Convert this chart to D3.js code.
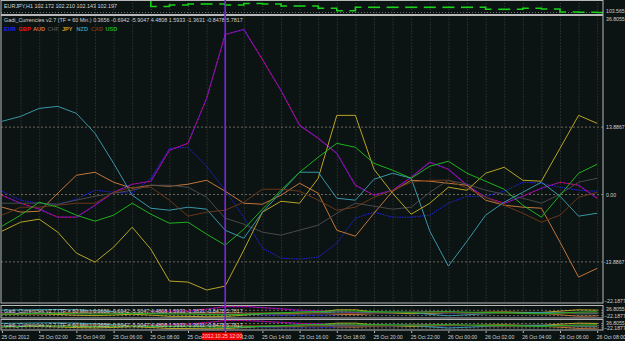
<!DOCTYPE html>
<html>
<head>
<meta charset="utf-8">
<script src="https://cdn.jsdelivr.net/npm/d3@7"></script>
<style>
  body { margin: 0; background: #0b1313; }
  svg { display: block; }
  text { font-family: "Liberation Sans", Arial, sans-serif; }
</style>
</head>
<body>
<div id="chart"></div>
<script>
// hourly bars from 25 Oct 2012 00:00 to 26 Oct 2012 08:00
const startTime = new Date(2012, 9, 25, 0)
const endTime = new Date(2012, 9, 26, 8)
const times = d3.timeHour.range(startTime, d3.timeHour.offset(endTime, 1))

// currency strength lines (one value per hour)
const eur = [0.68, -1.17, -1.79, -2.00, -0.97, 0.88, 0.47, 0.27, 3.35, 9.52, 9.73, 5.82, 0.88, -4.67, -11.04, -13.10, -13.31, -12.90, -10.02, -4.87, -3.64, -4.67, -4.67, -4.26, -1.79, -0.35, -0.35, 0.68, 2.53, 2.32, 1.50, 0.88, 0.68]
const gbp = [-0.14, -1.79, -3.02, -4.67, -4.67, -2.20, 0.47, 2.12, 2.74, 9.11, 10.55, 19.81, 32.97, 34.00, 27.83, 21.45, 14.25, 11.58, 8.49, 1.91, -0.14, 0.88, 3.56, 6.64, 5.20, 1.91, -0.56, -1.79, -0.35, 1.30, 2.53, 1.91, -0.76]
const aud = [-2.61, -3.64, -3.44, 0.27, 3.97, 4.59, 2.53, 1.30, 1.91, 1.71, 2.12, 2.94, 0.68, -1.79, -2.00, -0.14, 2.32, 0.27, -7.36, -8.59, -3.85, 0.68, 2.94, 2.74, 2.32, 1.91, -1.17, -2.20, -2.61, -2.82, -9.81, -17.01, -15.22]
const chf = [-1.79, -1.79, -1.79, -2.00, -1.17, -0.35, 0.27, 0.88, 1.91, 1.91, 1.50, -0.56, -4.87, -6.11, -7.76, -8.37, -7.34, -6.31, -3.85, -1.79, -2.41, -3.02, -2.61, 0.47, 2.94, 2.12, 0.88, 0.06, -0.76, -1.79, 0.06, 2.53, 3.35]
const jpy = [-7.55, -5.70, -5.08, -7.76, -12.07, -13.93, -10.84, -6.73, -11.25, -17.83, -18.04, -19.68, -18.86, -11.45, -3.64, -1.38, -1.79, 3.35, 16.31, 16.31, 5.20, 0.27, -4.05, -1.79, 1.50, 0.88, 4.38, 5.61, 2.94, 2.74, 9.52, 16.31, 14.66]
const nzd = [15.08, 16.10, 17.75, 18.16, 16.72, 12.61, 6.44, -0.14, -2.82, -3.23, -2.61, -3.02, -7.36, -9.00, -3.64, 0.47, 4.59, 4.59, -0.76, -1.17, 3.15, 4.38, 3.35, -7.55, -14.75, -9.60, -4.26, -1.58, 0.47, 2.53, -0.35, -4.46, -3.85]
const cad = [-4.26, -2.61, -2.61, -2.20, -1.79, -1.79, 0.47, 1.50, 1.50, -1.17, -4.46, -3.64, -3.23, -1.58, 1.09, 1.09, 0.68, -1.17, -3.23, -2.61, -0.56, 0.88, 2.53, 2.94, 2.94, 1.30, -0.56, -2.20, -3.85, -5.70, -4.26, -0.56, 0.47]
const usd = [-6.52, -4.26, -1.58, -2.61, -4.26, -5.49, -4.26, -1.79, -4.05, -5.91, -5.70, -8.17, -10.43, -7.14, -3.02, 0.88, 4.59, 7.69, 10.55, 9.73, 6.44, 5.00, 3.35, 5.82, 6.85, 4.38, 2.74, 1.09, -2.20, -4.67, -0.14, 4.38, 6.23]

const currencies = ["EUR", "GBP", "AUD", "CHF", "JPY", "NZD", "CAD", "USD"]
const headerValues = ["0.3656", "-0.6942", "-5.9047", "4.4808", "1.5933", "-1.3631", "-0.8478", "5.7817"]

// EURJPY closes for the little price window on top (first hours sit above it)
const priceClose = [104.08, 104.10, 104.06, 104.05, 104.04, 104.03, 104.02, 104.00, 103.767, 103.817, 103.85, 103.85, 103.817, 103.867, 103.85, 103.783, 103.783, 103.707, 103.627, 103.74, 103.74, 103.74, 103.74, 103.74, 103.74, 103.74, 103.673, 103.673, 103.707, 103.683, 103.583, 103.573, 103.567]
const priceDomain = [103.55, 103.95]
const lastPrice = 103.565

// scale levels for the indicator window
const axisMin = -22.1877
const axisMax = 36.8055
const levels = [13.8867, 0, -13.8867]
const levelLabels = ["13.8867", "0.00", "-13.8867"]

const tickLabels = ["25 Oct 2012", "25 Oct 02:00", "25 Oct 04:00", "25 Oct 06:00", "25 Oct 08:00", "25 Oct 10:00", "25 Oct 12:00", "25 Oct 14:00", "25 Oct 16:00", "25 Oct 18:00", "25 Oct 20:00", "25 Oct 22:00", "26 Oct 00:00", "26 Oct 02:00", "26 Oct 04:00", "26 Oct 06:00", "26 Oct 08:00"]
const tickTimes = d3.timeHour.every(2).range(startTime, d3.timeHour.offset(endTime, 1))
const markerTime = new Date(2012, 9, 25, 12)

const colors = {
    EUR: "#2424e8", GBP: "#ff1010", AUD: "#c4763a", CHF: "#4a4a4a",
    JPY: "#b8a424", NZD: "#3a96a8", CAD: "#6a3818", USD: "#1fb21f"
}
const seriesValues = { EUR: eur, GBP: gbp, AUD: aud, CHF: chf, JPY: jpy, NZD: nzd, CAD: cad, USD: usd }

const width = 625
const height = 341
const frameRight = 603

const xScale = d3.scaleTime().domain([startTime, endTime]).range([2, 597.2])

const svg = d3.select("#chart")
    .append("svg")
    .attr("width", width)
    .attr("height", height)

svg.append("rect").attr("width", width).attr("height", height).attr("fill", "#0b1313")

const defs = svg.append("defs")
function clipFor(id, top, bottom) {
    defs.append("clipPath").attr("id", id)
        .append("rect").attr("x", 1).attr("y", top).attr("width", frameRight - 1).attr("height", bottom - top)
    return "url(#" + id + ")"
}

// hourly dotted grid for a window
function vGrid(top, bottom) {
    svg.append("g")
        .selectAll("line")
        .data(times.slice(1))
        .join("line")
        .attr("x1", d => xScale(d) + 0.5)
        .attr("x2", d => xScale(d) + 0.5)
        .attr("y1", top)
        .attr("y2", bottom)
        .attr("stroke", "#4a5252")
        .attr("stroke-width", 0.8)
        .attr("stroke-dasharray", "1,2")
}

// ---------- price window ----------
const priceTop = 0, priceBottom = 14
const priceY = d3.scaleLinear().domain(priceDomain).range([13, 1])
vGrid(priceTop, priceBottom)
svg.append("line")
    .attr("x1", 1).attr("x2", frameRight)
    .attr("y1", priceY(lastPrice)).attr("y2", priceY(lastPrice))
    .attr("stroke", "#8a8a8a").attr("stroke-width", 0.8).attr("stroke-dasharray", "1,2")

svg.append("g")
    .attr("clip-path", clipFor("clipPrice", priceTop, priceBottom))
    .selectAll("path")
    .data(priceClose.slice(1).map((c, i) => ({ t: times[i + 1], open: priceClose[i], close: c })))
    .join("path")
    .attr("d", d => {
        const cx = xScale(d.t)
        return "M" + (cx - 6) + "," + priceY(d.open) + "H" + cx + "V" + priceY(d.close) + "H" + (cx + 6)
    })
    .attr("fill", "none")
    .attr("stroke", "#19d219")
    .attr("stroke-width", 1.6)

svg.append("text")
    .text("EURJPY,H1  102.172 102.210 102.143 102.197")
    .attr("x", 4).attr("y", 8)
    .attr("font-size", "5.4px")
    .attr("fill", "#d8d8d8")

svg.append("text")
    .text(d3.format(".3f")(lastPrice))
    .attr("x", 606).attr("y", 13)
    .attr("font-size", "5.2px")
    .attr("fill", "#cfcfcf")

// ---------- indicator windows ----------
const header = "Gadi_Currencies v2.7 (TF = 60 Min.) " + headerValues.join(" ")

function drawIndicator(id, top, bottom, full) {
    const yScale = d3.scaleLinear().domain([axisMin, axisMax]).range([bottom - 0.8, top + 0.4])
    vGrid(top, bottom)

    svg.append("g")
        .selectAll("line")
        .data(levels)
        .join("line")
        .attr("x1", 1).attr("x2", frameRight)
        .attr("y1", d => yScale(d)).attr("y2", d => yScale(d))
        .attr("stroke", "#8c7e6e")
        .attr("stroke-width", 0.8)
        .attr("stroke-dasharray", "2,2")

    const g = svg.append("g").attr("clip-path", clipFor(id, top, bottom))
    const line = d3.line()
        .x((d, i) => xScale(times[i]))
        .y(d => yScale(d))

    currencies.forEach(c => {
        if (c === "GBP") {
            // GBP has a violet line under the red dots
            g.append("path").datum(seriesValues[c]).attr("d", line)
                .attr("fill", "none").attr("stroke", "#6c12c4").attr("stroke-width", 1.2)
            g.append("path").datum(seriesValues[c]).attr("d", line)
                .attr("fill", "none").attr("stroke", colors[c]).attr("stroke-width", 1)
                .attr("stroke-dasharray", "1,3")
        } else {
            g.append("path").datum(seriesValues[c]).attr("d", line)
                .attr("fill", "none")
                .attr("stroke", colors[c])
                .attr("stroke-width", 1)
                .attr("stroke-dasharray", c === "EUR" ? "1.5,1" : null)
        }
    })

    svg.append("text")
        .text(header)
        .attr("x", 4).attr("y", full ? 22 : top + 7)
        .attr("font-size", "5.4px")
        .attr("fill", "#d0d0d0")

    if (full) {
        svg.append("g")
            .selectAll("text")
            .data(currencies)
            .join("text")
            .text(d => d)
            .attr("x", (d, i) => 4 + i * 14.5)
            .attr("y", 31)
            .attr("font-size", "5.6px")
            .attr("font-weight", "bold")
            .attr("fill", d => colors[d])

        svg.append("g")
            .selectAll("text")
            .data(levels)
            .join("text")
            .text((d, i) => levelLabels[i])
            .attr("x", d => d < 0 ? 604 : 606)
            .attr("y", d => yScale(d) + 2)
            .attr("font-size", "5.2px")
            .attr("fill", "#cfcfcf")
    }

    svg.append("text").text(d3.format(".4f")(axisMax))
        .attr("x", 606).attr("y", top + 5)
        .attr("font-size", "5.2px").attr("fill", "#cfcfcf")
    svg.append("text").text(d3.format(".4f")(axisMin))
        .attr("x", 604).attr("y", bottom)
        .attr("font-size", "5.2px").attr("fill", "#cfcfcf")

    // window frame
    svg.append("rect")
        .attr("x", 1).attr("y", top)
        .attr("width", frameRight - 1).attr("height", bottom - top)
        .attr("fill", "none")
        .attr("stroke", "#b8b8b8")
        .attr("stroke-width", 1)
}

drawIndicator("clipMain", 15.5, 303, true)
drawIndicator("clipSub1", 305.5, 318, false)
drawIndicator("clipSub2", 319.5, 330, false)

// price frame
svg.append("rect")
    .attr("x", 1).attr("y", 0.5)
    .attr("width", frameRight - 1).attr("height", 14)
    .attr("fill", "none").attr("stroke", "#b8b8b8").attr("stroke-width", 1)

// vertical marker at 25 Oct 12:00
svg.append("line")
    .attr("x1", xScale(markerTime)).attr("x2", xScale(markerTime))
    .attr("y1", 0).attr("y2", 331)
    .attr("stroke", "#7c22e6")
    .attr("stroke-width", 1.6)

// ---------- time axis ----------
const xAxis = d3.axisBottom(xScale)
    .tickValues(tickTimes)
    .tickFormat((d, i) => tickLabels[i])
    .tickSize(2)

const axisG = svg.append("g")
    .attr("transform", "translate(0, 331)")
    .call(xAxis)
axisG.select(".domain").remove()
axisG.selectAll("line").attr("stroke", "#b8b8b8")
axisG.selectAll("text")
    .attr("text-anchor", "start")
    .attr("dx", "-0.2em")
    .attr("y", 4)
    .attr("font-size", "5.1px")
    .attr("font-family", "Liberation Sans, Arial, sans-serif")
    .attr("fill", "#d0d0d0")

// label of the marker line
svg.append("rect")
    .attr("x", xScale(markerTime) - 23).attr("y", 332.5)
    .attr("width", 40).attr("height", 7.5)
    .attr("fill", "#f00000")
svg.append("text")
    .text("2012.10.25 12:00")
    .attr("x", xScale(markerTime) - 3).attr("y", 338.3)
    .attr("text-anchor", "middle")
    .attr("font-size", "5.2px")
    .attr("fill", "#ffd0d0")
</script>
</body>
</html>
